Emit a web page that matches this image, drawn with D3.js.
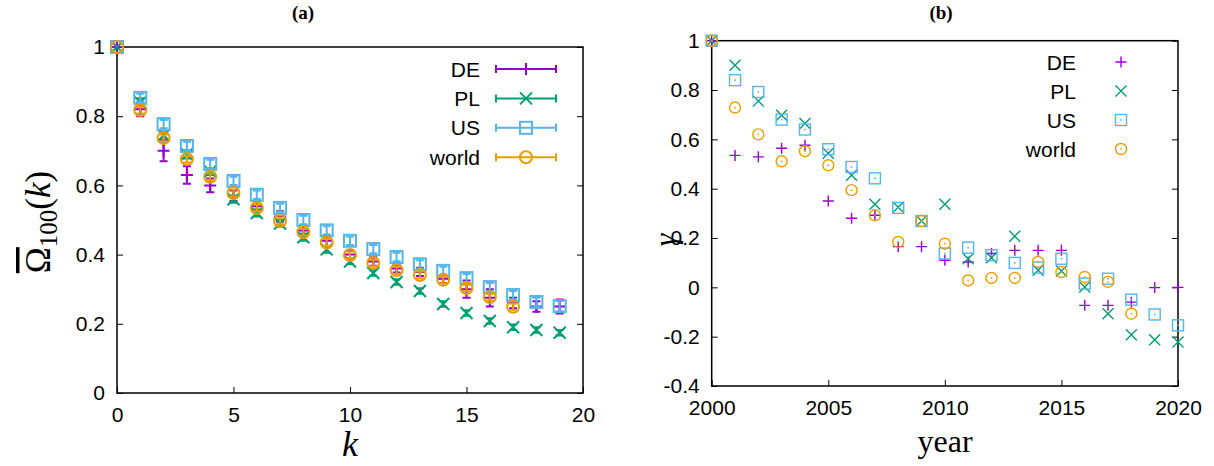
<!DOCTYPE html>
<html>
<head>
<meta charset="utf-8">
<script src="https://cdn.jsdelivr.net/npm/d3@7"></script>
<style>
  body { margin: 0; background: #fff; }
  svg { display: block; }
  .tick text { font-family: "Liberation Sans", Arial, sans-serif; font-size: 21px; fill: #000; }
</style>
</head>
<body>
<div id="chart"></div>
<script>
// ---- panel (a): overlap vs k ----
const kValues = d3.range(0, 20);
const deA = [1, 0.82, 0.70, 0.63, 0.60, 0.57, 0.54, 0.51, 0.47, 0.44, 0.40, 0.38, 0.36, 0.35, 0.33, 0.30, 0.275, 0.26, 0.25, 0.25];
const deAErr = [0, 0.02, 0.03, 0.025, 0.02, 0.015, 0.015, 0.015, 0.015, 0.015, 0.012, 0.012, 0.012, 0.012, 0.012, 0.025, 0.025, 0.015, 0.015, 0.02];
const plA = [1, 0.84, 0.745, 0.69, 0.64, 0.56, 0.52, 0.49, 0.45, 0.415, 0.38, 0.347, 0.321, 0.295, 0.257, 0.231, 0.208, 0.19, 0.182, 0.174];
const plAErr = [0, 0.012, 0.012, 0.012, 0.01, 0.01, 0.01, 0.01, 0.01, 0.01, 0.008, 0.008, 0.008, 0.008, 0.008, 0.008, 0.008, 0.008, 0.008, 0.008];
const usA = [1, 0.853, 0.777, 0.714, 0.662, 0.613, 0.573, 0.535, 0.50, 0.47, 0.44, 0.416, 0.393, 0.372, 0.353, 0.332, 0.306, 0.283, 0.263, 0.251];
const usAErr = [0, 0.012, 0.012, 0.012, 0.012, 0.012, 0.012, 0.012, 0.012, 0.012, 0.012, 0.012, 0.012, 0.012, 0.012, 0.012, 0.012, 0.012, 0.012, 0.015];
const worldA = [1, 0.818, 0.737, 0.676, 0.625, 0.578, 0.535, 0.497, 0.465, 0.435, 0.399, 0.376, 0.355, 0.341, 0.327, 0.303, 0.277, 0.249];
const worldAErr = [0, 0.01, 0.01, 0.01, 0.01, 0.01, 0.01, 0.01, 0.01, 0.01, 0.01, 0.01, 0.01, 0.01, 0.01, 0.01, 0.01, 0.01];

// ---- panel (b): gamma vs year ----
const years = d3.range(2000, 2021);
const deB = [1, 0.535, 0.529, 0.564, 0.576, 0.35, 0.28, 0.292, 0.165, 0.165, 0.11, 0.103, 0.137, 0.15, 0.15, 0.15, -0.073, -0.073, -0.06, -0.001, 0.0];
const plB = [1, 0.90, 0.755, 0.698, 0.664, 0.544, 0.454, 0.337, 0.325, 0.269, 0.337, 0.116, 0.12, 0.207, 0.069, 0.066, 0.001, -0.107, -0.192, -0.212, -0.222];
const usB = [1, 0.84, 0.792, 0.68, 0.64, 0.56, 0.488, 0.442, 0.322, 0.269, 0.137, 0.161, 0.13, 0.099, 0.08, 0.116, 0.015, 0.035, -0.05, -0.11, -0.154];
const worldB = [1, 0.729, 0.62, 0.511, 0.552, 0.495, 0.394, 0.292, 0.184, 0.269, 0.177, 0.028, 0.038, 0.038, 0.103, 0.062, 0.042, 0.022, -0.107];

const seriesNames = ["DE", "PL", "US", "world"];
const colors = { DE: "#9400d3", PL: "#009e73", US: "#56b4e9", world: "#e69f00" };
const shapes = { DE: "plus", PL: "cross", US: "square", world: "circle" };

const svg = d3.select("#chart").append("svg")
    .attr("width", 1214)
    .attr("height", 466);

// draw one gnuplot-like point
function drawPoint(g, shape, x, y, size, color, sw, centerDot) {
    const h = size / 2;
    if (shape === "plus") {
        g.append("path").attr("d", `M${x - h},${y}H${x + h}M${x},${y - h}V${y + h}`)
            .attr("stroke", color).attr("stroke-width", sw).attr("fill", "none");
    } else if (shape === "cross") {
        g.append("path").attr("d", `M${x - h},${y - h}L${x + h},${y + h}M${x - h},${y + h}L${x + h},${y - h}`)
            .attr("stroke", color).attr("stroke-width", sw).attr("fill", "none");
    } else if (shape === "square") {
        g.append("rect").attr("x", x - h).attr("y", y - h).attr("width", size).attr("height", size)
            .attr("stroke", color).attr("stroke-width", sw).attr("fill", "none");
    } else {
        g.append("circle").attr("cx", x).attr("cy", y).attr("r", h)
            .attr("stroke", color).attr("stroke-width", sw).attr("fill", "none");
    }
    if (centerDot && (shape === "square" || shape === "circle")) {
        g.append("rect").attr("x", x - 0.8).attr("y", y - 0.8).attr("width", 1.6).attr("height", 1.6)
            .attr("fill", color);
    }
}

function drawFrame(cfg) {
    const g = svg.append("g");
    const x = cfg.x, y = cfg.y;
    const [x0, x1] = x.range();
    const [y0, y1] = y.range();

    const xAxis = g.append("g")
        .attr("transform", `translate(0,${y0})`)
        .call(d3.axisBottom(x).tickValues(cfg.xTicks).tickSize(-6).tickPadding(14).tickFormat(d3.format("d")));
    g.append("g")
        .attr("transform", `translate(${x0},0)`)
        .call(d3.axisLeft(y).tickValues(cfg.yTicks).tickSize(-6).tickPadding(12).tickFormat(d => String(+d.toFixed(1))));
    // mirrored y ticks on right border
    g.append("g")
        .attr("transform", `translate(${x1},0)`)
        .call(d3.axisRight(y).tickValues(cfg.yTicks).tickSize(-6).tickFormat(""));

    g.selectAll(".domain").remove();
    g.selectAll(".tick line").attr("stroke", "#000").attr("stroke-width", 1);
    xAxis.selectAll(".tick text").attr("dy", "0.71em");

    g.append("rect")
        .attr("x", x0).attr("y", y1)
        .attr("width", x1 - x0).attr("height", y0 - y1)
        .attr("fill", "none").attr("stroke", "#000").attr("stroke-width", 1.5);
    return g;
}

// ---------- panel (a) ----------
const xA = d3.scaleLinear().domain([0, 20]).range([117, 583]);
const yA = d3.scaleLinear().domain([0, 1]).range([393, 47]);
drawFrame({ x: xA, y: yA, xTicks: [0, 5, 10, 15, 20], yTicks: [0, 0.2, 0.4, 0.6, 0.8, 1] });

const dataA = {
    DE: { v: deA, e: deAErr },
    PL: { v: plA, e: plAErr },
    US: { v: usA, e: usAErr },
    world: { v: worldA, e: worldAErr }
};

const gA = svg.append("g");
seriesNames.forEach(name => {
    const s = dataA[name];
    const col = colors[name];
    s.v.forEach((v, i) => {
        const px = xA(kValues[i]);
        const e = s.e[i];
        if (e > 0) {
            const ya = yA(v + e), yb = yA(v - e);
            gA.append("path")
                .attr("d", `M${px},${ya}V${yb}M${px - 4},${ya}H${px + 4}M${px - 4},${yb}H${px + 4}`)
                .attr("stroke", col).attr("stroke-width", 2).attr("fill", "none");
        }
        drawPoint(gA, shapes[name], px, yA(v), 12, col, 2, false);
    });
});

// legend (a)
const legA = svg.append("g");
seriesNames.forEach((name, i) => {
    const ly = 69 + i * 29.4;
    const col = colors[name];
    legA.append("text").attr("x", 480).attr("y", ly).attr("dy", "0.36em")
        .attr("text-anchor", "end")
        .style("font-family", "'Liberation Sans', Arial, sans-serif").style("font-size", "21px")
        .text(name);
    legA.append("path")
        .attr("d", `M496,${ly}H556M496,${ly - 4}V${ly + 4}M556,${ly - 4}V${ly + 4}`)
        .attr("stroke", col).attr("stroke-width", 2).attr("fill", "none");
    drawPoint(legA, shapes[name], 526, ly, 12, col, 2, false);
});

// ---------- panel (b) ----------
const xB = d3.scaleLinear().domain([2000, 2020]).range([711.7, 1178]);
const yB = d3.scaleLinear().domain([-0.4, 1]).range([386, 40.7]);
drawFrame({ x: xB, y: yB, xTicks: [2000, 2005, 2010, 2015, 2020], yTicks: [-0.4, -0.2, 0, 0.2, 0.4, 0.6, 0.8, 1] });

const dataB = { DE: deB, PL: plB, US: usB, world: worldB };
const gB = svg.append("g");
seriesNames.forEach(name => {
    dataB[name].forEach((v, i) => {
        drawPoint(gB, shapes[name], xB(years[i]), yB(v), 11, colors[name], 1.4, true);
    });
});

// legend (b)
const legB = svg.append("g");
seriesNames.forEach((name, i) => {
    const ly = 62 + i * 29;
    legB.append("text").attr("x", 1076).attr("y", ly).attr("dy", "0.36em")
        .attr("text-anchor", "end")
        .style("font-family", "'Liberation Sans', Arial, sans-serif").style("font-size", "21px")
        .text(name);
    drawPoint(legB, shapes[name], 1121, ly, 11, colors[name], 1.4, true);
});

// ---------- titles and axis labels ----------
const serif = "'Liberation Serif', 'DejaVu Serif', serif";
svg.append("text").attr("x", 303).attr("y", 19).attr("text-anchor", "middle")
    .style("font-family", serif).style("font-weight", "bold").style("font-size", "19px")
    .text("(a)");
svg.append("text").attr("x", 941).attr("y", 19).attr("text-anchor", "middle")
    .style("font-family", serif).style("font-weight", "bold").style("font-size", "19px")
    .text("(b)");

svg.append("text").attr("x", 350).attr("y", 456).attr("text-anchor", "middle")
    .style("font-family", serif).style("font-style", "italic").style("font-size", "36px")
    .text("k");
svg.append("text").attr("x", 945).attr("y", 452).attr("text-anchor", "middle")
    .style("font-family", serif).style("font-size", "32px")
    .text("year");

const yLabA = svg.append("text")
    .attr("transform", "translate(50,222) rotate(-90)")
    .attr("text-anchor", "middle")
    .style("font-family", serif).style("font-size", "35px");
yLabA.append("tspan").style("text-decoration", "overline").text("Ω");
yLabA.append("tspan").attr("dy", 7).style("font-size", "25px").text("100");
yLabA.append("tspan").attr("dy", -7).text("(");
yLabA.append("tspan").style("font-style", "italic").text("k");
yLabA.append("tspan").text(")");

svg.append("text")
    .attr("transform", "translate(676,240) rotate(-90)")
    .attr("text-anchor", "middle")
    .style("font-family", serif).style("font-style", "italic").style("font-size", "32px")
    .text("γ");
</script>
</body>
</html>
